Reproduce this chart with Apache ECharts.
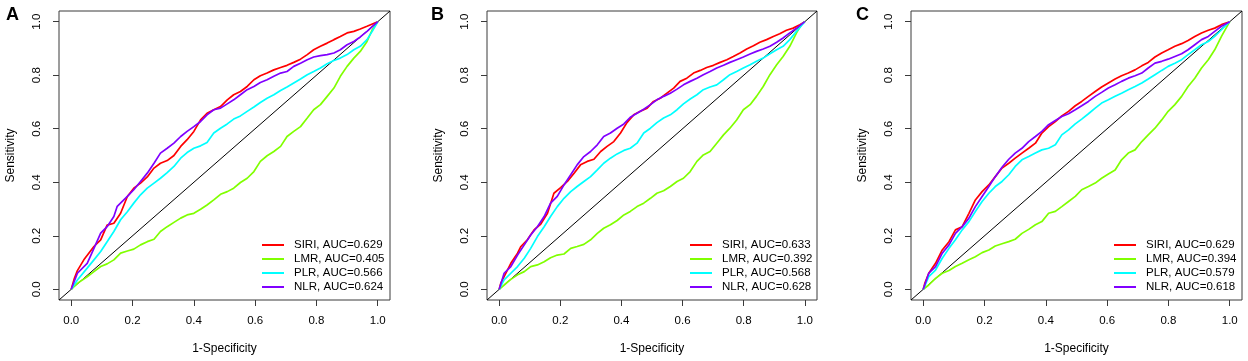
<!DOCTYPE html>
<html>
<head>
<meta charset="utf-8">
<script src="https://cdn.jsdelivr.net/npm/echarts@6/dist/echarts.min.js"></script>
<style>
  html, body { margin: 0; padding: 0; background: #fff; }
  #chart { width: 1248px; height: 361px; }
</style>
</head>
<body>
<div id="chart"></div>
<script>
// axis range (R style 4% padding) and tick values
const axisRange = [-0.04, 1.04];
const ticks = [0, 0.2, 0.4, 0.6, 0.8, 1.0];
const panels = ["A", "B", "C"];
const markers = ["SIRI", "LMR", "PLR", "NLR"];
const colors = ["#FF0000", "#80FF00", "#00FFFF", "#8000FF"];

const aucA = [0.629, 0.405, 0.566, 0.624];
const aucB = [0.633, 0.392, 0.568, 0.628];
const aucC = [0.629, 0.394, 0.579, 0.618];

// [1-specificity, sensitivity]
const sirisA = [[0,0],[0.01,0.04],[0.02,0.07],[0.041,0.11],[0.074,0.16],[0.096,0.185],[0.117,0.24],[0.139,0.247],[0.161,0.284],[0.183,0.347],[0.204,0.378],[0.226,0.397],[0.248,0.42],[0.27,0.453],[0.291,0.471],[0.313,0.481],[0.335,0.5],[0.357,0.534],[0.378,0.559],[0.4,0.59],[0.422,0.633],[0.443,0.658],[0.465,0.671],[0.487,0.683],[0.509,0.708],[0.53,0.727],[0.552,0.739],[0.574,0.758],[0.596,0.783],[0.617,0.798],[0.639,0.808],[0.661,0.82],[0.683,0.829],[0.704,0.837],[0.726,0.848],[0.748,0.86],[0.77,0.877],[0.791,0.895],[0.813,0.908],[0.835,0.92],[0.857,0.933],[0.878,0.945],[0.9,0.958],[0.922,0.964],[0.943,0.973],[0.965,0.983],[1,1]];
const lmrA = [[0,0],[0.02,0.022],[0.052,0.047],[0.074,0.066],[0.096,0.085],[0.117,0.095],[0.139,0.11],[0.161,0.135],[0.183,0.143],[0.204,0.15],[0.226,0.166],[0.248,0.178],[0.27,0.187],[0.291,0.216],[0.313,0.234],[0.335,0.25],[0.357,0.266],[0.378,0.278],[0.4,0.284],[0.422,0.299],[0.443,0.315],[0.465,0.334],[0.487,0.355],[0.509,0.365],[0.53,0.378],[0.552,0.399],[0.574,0.415],[0.596,0.44],[0.617,0.478],[0.639,0.499],[0.661,0.515],[0.683,0.534],[0.704,0.571],[0.726,0.59],[0.748,0.608],[0.77,0.64],[0.791,0.671],[0.813,0.69],[0.835,0.721],[0.857,0.752],[0.878,0.796],[0.9,0.833],[0.922,0.864],[0.943,0.889],[0.965,0.926],[0.982,0.97],[1,1]];
const plrA = [[0,0],[0.02,0.035],[0.052,0.079],[0.074,0.11],[0.096,0.141],[0.117,0.178],[0.139,0.216],[0.161,0.26],[0.183,0.29],[0.204,0.322],[0.226,0.353],[0.248,0.378],[0.27,0.397],[0.291,0.415],[0.313,0.436],[0.335,0.459],[0.357,0.49],[0.378,0.511],[0.4,0.527],[0.422,0.536],[0.443,0.549],[0.465,0.584],[0.487,0.602],[0.509,0.618],[0.53,0.636],[0.552,0.648],[0.574,0.665],[0.596,0.681],[0.617,0.698],[0.639,0.714],[0.661,0.727],[0.683,0.743],[0.704,0.756],[0.726,0.771],[0.748,0.786],[0.77,0.802],[0.791,0.814],[0.813,0.827],[0.835,0.843],[0.857,0.855],[0.878,0.864],[0.9,0.877],[0.922,0.895],[0.943,0.908],[0.965,0.933],[0.982,0.964],[1,1]];
const nlrA = [[0,0],[0.02,0.06],[0.052,0.097],[0.074,0.153],[0.096,0.21],[0.117,0.234],[0.139,0.272],[0.15,0.31],[0.183,0.347],[0.204,0.372],[0.226,0.403],[0.248,0.434],[0.27,0.471],[0.291,0.509],[0.313,0.527],[0.335,0.546],[0.357,0.571],[0.378,0.59],[0.4,0.608],[0.422,0.627],[0.443,0.652],[0.465,0.671],[0.487,0.677],[0.509,0.693],[0.53,0.708],[0.552,0.727],[0.574,0.746],[0.596,0.758],[0.617,0.773],[0.639,0.783],[0.661,0.796],[0.683,0.808],[0.704,0.814],[0.726,0.833],[0.748,0.845],[0.77,0.858],[0.791,0.868],[0.813,0.873],[0.835,0.877],[0.857,0.883],[0.878,0.895],[0.9,0.914],[0.922,0.926],[0.943,0.943],[0.965,0.964],[1,1]];

const sirisB = [[0,0],[0.005,0.022],[0.016,0.047],[0.038,0.097],[0.06,0.135],[0.071,0.16],[0.092,0.185],[0.114,0.222],[0.136,0.244],[0.158,0.284],[0.179,0.359],[0.201,0.38],[0.223,0.403],[0.245,0.434],[0.266,0.465],[0.288,0.478],[0.31,0.486],[0.332,0.515],[0.353,0.534],[0.375,0.552],[0.397,0.584],[0.418,0.623],[0.44,0.652],[0.462,0.665],[0.484,0.677],[0.505,0.702],[0.527,0.714],[0.549,0.733],[0.571,0.752],[0.592,0.777],[0.614,0.789],[0.636,0.808],[0.658,0.818],[0.679,0.829],[0.701,0.837],[0.723,0.848],[0.745,0.858],[0.766,0.87],[0.788,0.883],[0.81,0.898],[0.832,0.91],[0.853,0.923],[0.875,0.933],[0.897,0.945],[0.918,0.955],[0.94,0.968],[0.962,0.976],[0.984,0.989],[1,1]];
const lmrB = [[0,0],[0.016,0.016],[0.038,0.037],[0.06,0.054],[0.082,0.066],[0.103,0.085],[0.125,0.091],[0.147,0.103],[0.168,0.118],[0.19,0.128],[0.212,0.132],[0.234,0.153],[0.255,0.16],[0.277,0.168],[0.299,0.185],[0.321,0.209],[0.342,0.228],[0.364,0.241],[0.386,0.257],[0.408,0.278],[0.429,0.291],[0.451,0.309],[0.473,0.322],[0.495,0.34],[0.516,0.359],[0.538,0.368],[0.56,0.384],[0.582,0.403],[0.603,0.415],[0.625,0.44],[0.647,0.478],[0.668,0.502],[0.69,0.515],[0.712,0.546],[0.734,0.577],[0.755,0.602],[0.777,0.633],[0.799,0.671],[0.821,0.69],[0.842,0.721],[0.864,0.758],[0.886,0.802],[0.908,0.839],[0.929,0.87],[0.951,0.908],[0.973,0.958],[0.989,0.989],[1,1]];
const plrB = [[0,0],[0.016,0.035],[0.038,0.06],[0.06,0.085],[0.082,0.116],[0.103,0.153],[0.125,0.197],[0.147,0.234],[0.168,0.272],[0.19,0.309],[0.212,0.34],[0.234,0.365],[0.255,0.384],[0.277,0.403],[0.299,0.421],[0.321,0.446],[0.342,0.471],[0.364,0.49],[0.386,0.506],[0.408,0.519],[0.429,0.527],[0.451,0.546],[0.473,0.584],[0.495,0.602],[0.516,0.623],[0.538,0.64],[0.56,0.652],[0.582,0.671],[0.603,0.693],[0.625,0.711],[0.647,0.727],[0.668,0.746],[0.69,0.756],[0.712,0.764],[0.734,0.783],[0.755,0.802],[0.777,0.814],[0.799,0.827],[0.821,0.839],[0.842,0.852],[0.864,0.864],[0.886,0.88],[0.908,0.895],[0.929,0.908],[0.951,0.933],[0.973,0.964],[1,1]];
const nlrB = [[0,0],[0.016,0.06],[0.038,0.085],[0.06,0.128],[0.082,0.166],[0.103,0.203],[0.125,0.234],[0.147,0.272],[0.168,0.322],[0.19,0.347],[0.212,0.39],[0.234,0.428],[0.255,0.465],[0.277,0.496],[0.299,0.515],[0.321,0.54],[0.342,0.571],[0.364,0.584],[0.386,0.602],[0.408,0.618],[0.429,0.643],[0.451,0.658],[0.473,0.673],[0.495,0.69],[0.516,0.708],[0.538,0.721],[0.56,0.733],[0.582,0.748],[0.603,0.764],[0.625,0.777],[0.647,0.789],[0.668,0.802],[0.69,0.814],[0.712,0.827],[0.734,0.837],[0.755,0.848],[0.777,0.858],[0.799,0.868],[0.821,0.879],[0.842,0.889],[0.864,0.898],[0.886,0.908],[0.908,0.923],[0.929,0.939],[0.951,0.958],[0.973,0.976],[1,1]];

const sirisC = [[0,0],[0.005,0.022],[0.018,0.06],[0.04,0.097],[0.062,0.147],[0.084,0.178],[0.105,0.222],[0.127,0.234],[0.149,0.284],[0.17,0.334],[0.192,0.365],[0.214,0.39],[0.235,0.421],[0.257,0.453],[0.279,0.471],[0.3,0.49],[0.322,0.509],[0.344,0.527],[0.366,0.546],[0.387,0.584],[0.409,0.608],[0.431,0.627],[0.452,0.648],[0.474,0.665],[0.496,0.686],[0.517,0.702],[0.539,0.721],[0.561,0.739],[0.582,0.756],[0.604,0.771],[0.626,0.786],[0.647,0.798],[0.669,0.808],[0.691,0.82],[0.713,0.835],[0.734,0.848],[0.756,0.868],[0.778,0.883],[0.799,0.895],[0.821,0.908],[0.843,0.918],[0.864,0.93],[0.886,0.945],[0.908,0.958],[0.93,0.968],[0.951,0.976],[0.973,0.989],[1,1]];
const lmrC = [[0,0],[0.018,0.016],[0.04,0.041],[0.062,0.06],[0.084,0.07],[0.105,0.085],[0.127,0.097],[0.149,0.11],[0.17,0.122],[0.192,0.137],[0.214,0.147],[0.235,0.162],[0.257,0.17],[0.279,0.178],[0.3,0.187],[0.322,0.209],[0.344,0.224],[0.366,0.241],[0.387,0.253],[0.409,0.284],[0.431,0.291],[0.452,0.309],[0.474,0.328],[0.496,0.347],[0.517,0.372],[0.539,0.384],[0.561,0.397],[0.582,0.415],[0.604,0.431],[0.626,0.446],[0.647,0.484],[0.669,0.509],[0.691,0.521],[0.713,0.552],[0.734,0.577],[0.756,0.602],[0.778,0.633],[0.799,0.665],[0.821,0.69],[0.843,0.721],[0.864,0.758],[0.886,0.789],[0.908,0.827],[0.93,0.858],[0.951,0.895],[0.973,0.945],[1,1]];
const plrC = [[0,0],[0.018,0.047],[0.04,0.072],[0.062,0.116],[0.084,0.153],[0.105,0.185],[0.127,0.222],[0.149,0.253],[0.17,0.291],[0.192,0.328],[0.214,0.359],[0.235,0.384],[0.257,0.403],[0.279,0.428],[0.3,0.459],[0.322,0.484],[0.344,0.496],[0.366,0.509],[0.387,0.521],[0.409,0.527],[0.431,0.54],[0.452,0.577],[0.474,0.596],[0.496,0.618],[0.517,0.636],[0.539,0.656],[0.561,0.677],[0.582,0.696],[0.604,0.708],[0.626,0.721],[0.647,0.733],[0.669,0.746],[0.691,0.758],[0.713,0.771],[0.734,0.786],[0.756,0.802],[0.778,0.818],[0.799,0.833],[0.821,0.845],[0.843,0.858],[0.864,0.877],[0.886,0.895],[0.908,0.914],[0.93,0.926],[0.951,0.945],[0.973,0.97],[1,1]];
const nlrC = [[0,0],[0.018,0.06],[0.04,0.085],[0.062,0.135],[0.084,0.166],[0.105,0.209],[0.127,0.234],[0.149,0.266],[0.17,0.309],[0.192,0.347],[0.214,0.384],[0.235,0.421],[0.257,0.456],[0.279,0.486],[0.3,0.509],[0.322,0.527],[0.344,0.552],[0.366,0.571],[0.387,0.59],[0.409,0.615],[0.431,0.631],[0.452,0.646],[0.474,0.656],[0.496,0.671],[0.517,0.686],[0.539,0.702],[0.561,0.721],[0.582,0.736],[0.604,0.752],[0.626,0.764],[0.647,0.777],[0.669,0.789],[0.691,0.798],[0.713,0.808],[0.734,0.827],[0.756,0.845],[0.778,0.852],[0.799,0.86],[0.821,0.87],[0.843,0.88],[0.864,0.895],[0.886,0.914],[0.908,0.933],[0.93,0.945],[0.951,0.964],[0.973,0.983],[1,1]];

const curves = [
    [sirisA, lmrA, plrA, nlrA],
    [sirisB, lmrB, plrB, nlrB],
    [sirisC, lmrC, plrC, nlrC]
];
const aucs = [aucA, aucB, aucC];

// layout in px
const grids = [
    { left: 59, top: 11, width: 331, height: 289 },
    { left: 487, top: 11, width: 330, height: 289 },
    { left: 911, top: 11, width: 331, height: 289 }
];
const legendPos = [[262, 238], [690, 238], [1114, 238]];
const letterPos = [6, 431, 856];

const font = "'Liberation Sans', Arial, sans-serif";
const chart = echarts.init(document.getElementById("chart"), null, { renderer: "canvas" });

const grid = [], xAxis = [], yAxis = [], series = [], legend = [], title = [];

panels.forEach((p, i) => {
    grid.push(Object.assign({ show: true, borderColor: "#3a3a3a", borderWidth: 1, backgroundColor: "transparent" }, grids[i]));

    const axisCommon = {
        type: "value",
        gridIndex: i,
        min: axisRange[0],
        max: axisRange[1],
        splitLine: { show: false },
        axisLine: { show: false, onZero: false },
        axisTick: { show: true, inside: false, length: 6, customValues: ticks, lineStyle: { color: "#3a3a3a", width: 1 } },
        nameLocation: "middle",
        nameGap: 43,
        nameTextStyle: { fontFamily: font, fontSize: 12, color: "#000" }
    };

    xAxis.push(Object.assign({}, axisCommon, {
        name: "1-Specificity",
        axisLabel: { customValues: ticks, margin: 15, fontFamily: font, fontSize: 11.5, color: "#000", formatter: v => v.toFixed(1) }
    }));
    yAxis.push(Object.assign({}, axisCommon, {
        name: "Sensitivity",
        nameGap: 42,
        axisLabel: { customValues: ticks, margin: 16, rotate: 90, fontFamily: font, fontSize: 11.5, color: "#000", formatter: v => v.toFixed(1) }
    }));

    // chance diagonal across the whole box
    series.push({
        type: "line",
        xAxisIndex: i,
        yAxisIndex: i,
        data: [[axisRange[0], axisRange[0]], [axisRange[1], axisRange[1]]],
        showSymbol: false,
        lineStyle: { color: "#000", width: 1 },
        silent: true,
        z: 1
    });

    const names = [];
    markers.forEach((m, k) => {
        const name = m + ", AUC=" + aucs[i][k].toFixed(3);
        names.push(name);
        series.push({
            name: name,
            type: "line",
            xAxisIndex: i,
            yAxisIndex: i,
            data: curves[i][k],
            showSymbol: false,
            lineStyle: { color: colors[k], width: 1.7 },
            itemStyle: { color: colors[k] },
            z: 2 + k
        });
    });

    legend.push({
        data: names,
        orient: "vertical",
        left: legendPos[i][0],
        top: legendPos[i][1],
        padding: 0,
        itemGap: 0,
        itemWidth: 22,
        itemHeight: 2,
        icon: "rect",
        selectedMode: false,
        textStyle: { fontFamily: font, fontSize: 11.5, color: "#000", lineHeight: 14, padding: [0, 0, 0, 5] }
    });

    title.push({
        text: p,
        left: letterPos[i],
        top: 6,
        padding: 0,
        textStyle: { fontFamily: font, fontSize: 18, fontWeight: "bold", color: "#000" }
    });
});

chart.setOption({
    animation: false,
    backgroundColor: "#fff",
    title: title,
    grid: grid,
    xAxis: xAxis,
    yAxis: yAxis,
    legend: legend,
    series: series
});
</script>
</body>
</html>
